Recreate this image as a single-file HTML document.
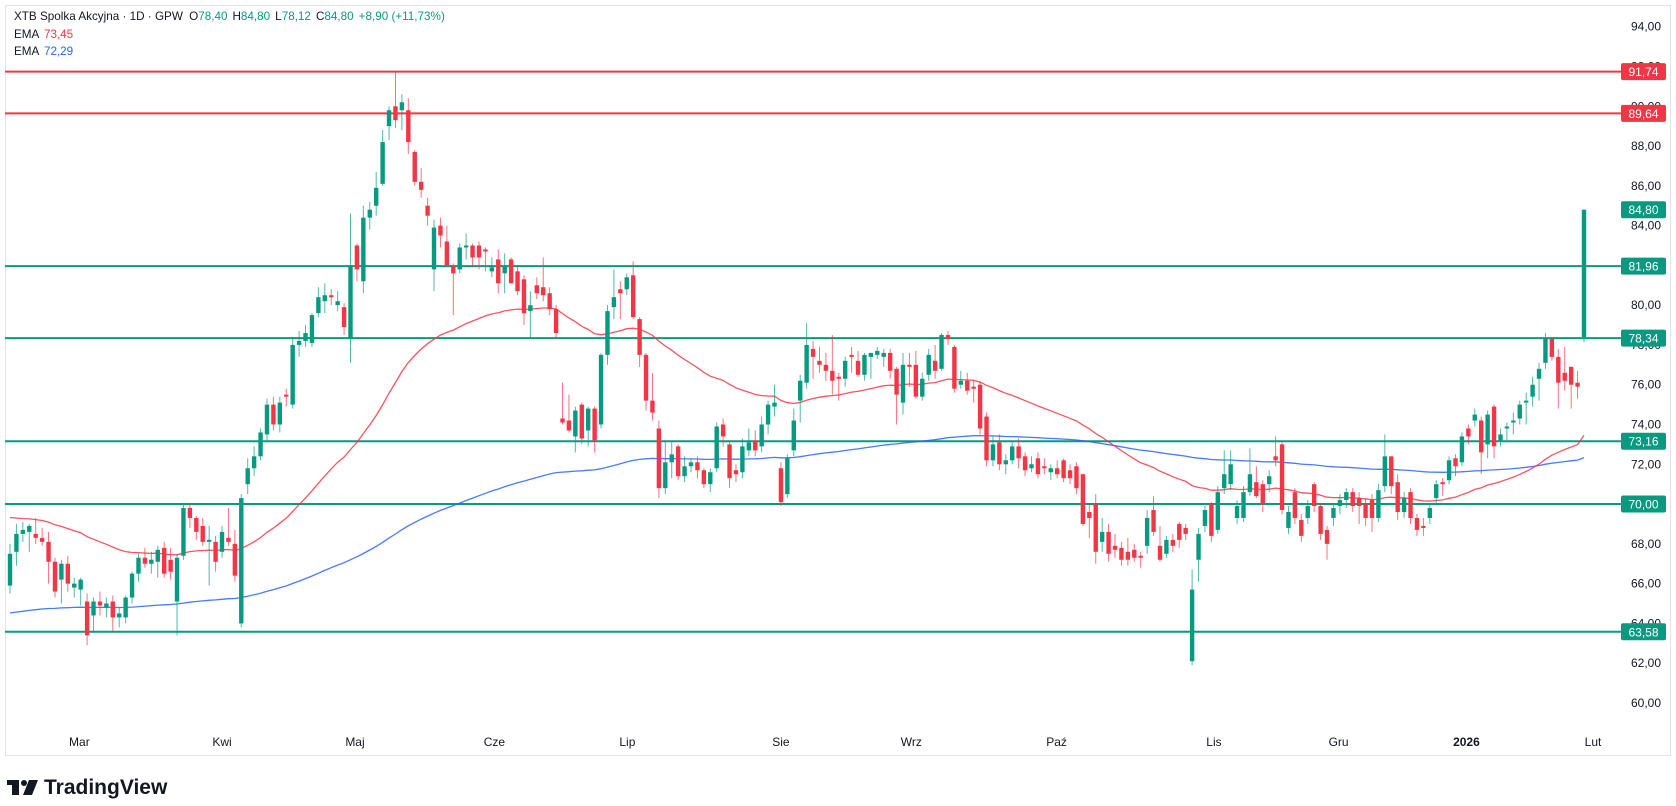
<!DOCTYPE html>
<html><head><meta charset="utf-8">
<style>
html,body{margin:0;padding:0;background:#fff;}
svg{display:block;font-family:"Liberation Sans",sans-serif;}
</style></head>
<body>
<svg id="chart" width="1676" height="806" viewBox="0 0 1676 806" xmlns="http://www.w3.org/2000/svg">
<rect x="5.5" y="5.5" width="1665" height="750" fill="#fff" stroke="#e0e3eb"/>
<g id="hlines"></g>
<g id="emas"></g>
<g id="candles"></g>
<g id="yaxis"></g>
<g id="xaxis"></g>
<g id="labels"></g>
<g font-size="11.7">
<text x="14" y="20" fill="#131722">XTB Spolka Akcyjna · 1D · GPW <tspan dx="3">O</tspan><tspan fill="#089981">78,40</tspan><tspan dx="5">H</tspan><tspan fill="#089981">84,80</tspan><tspan dx="5">L</tspan><tspan fill="#089981">78,12</tspan><tspan dx="5">C</tspan><tspan fill="#089981">84,80</tspan><tspan dx="5" fill="#089981">+8,90 (+11,73%)</tspan></text>
<text x="14" y="38" fill="#131722">EMA <tspan dx="2" fill="#f23645">73,45</tspan></text>
<text x="14" y="55" fill="#131722">EMA <tspan dx="2" fill="#2962ff">72,29</tspan></text>
</g>
<g fill="#131722">
<rect x="7" y="780" width="12" height="5"/>
<rect x="12" y="780" width="7" height="15"/>
<circle cx="24" cy="783" r="3"/>
<polygon points="29,780 38,780 32,795 23,795"/>
<text x="44" y="794" font-size="21" font-weight="bold">TradingView</text>
</g>
</svg>
<script>
const opens=[65.9,67.6,68.5,68.6,68.5,68.3,68.1,67.1,66.2,67.0,
65.8,65.7,65.1,64.4,65.1,64.8,65.1,64.3,64.3,65.3,
66.5,67.3,67.0,67.1,67.8,67.2,65.1,67.4,69.8,69.3,
68.9,68.1,68.1,67.6,68.3,68.0,64.0,71.0,71.8,72.4,
73.5,75.0,74.0,75.5,75.0,78.0,78.2,78.1,79.6,80.2,
80.5,80.0,79.9,78.3,83.0,81.2,84.4,85.0,86.1,89.0,
90.0,89.8,89.8,87.7,86.2,85.0,81.8,84.0,83.2,82.0,
81.8,82.9,83.0,83.0,82.8,81.7,82.3,81.6,82.3,81.7,
81.3,79.7,81.0,80.9,80.6,79.8,74.3,74.2,73.4,75.0,
73.7,74.8,74.0,77.5,79.9,80.8,80.8,81.5,79.3,77.5,
75.2,73.8,70.8,72.1,72.9,71.4,71.9,72.1,71.7,71.0,
71.8,74.0,73.0,71.7,71.6,72.7,73.2,72.9,74.0,74.9,
71.8,70.5,72.7,75.2,76.1,77.8,77.2,77.0,76.7,76.4,
76.3,77.5,77.2,76.5,77.4,77.5,77.4,77.6,76.8,75.1,
77.0,77.0,75.4,76.5,77.2,76.8,78.5,77.9,76.0,76.2,
75.9,76.0,74.4,72.2,73.1,72.0,72.2,72.9,72.4,71.8,
72.3,71.9,71.6,71.8,72.2,71.7,71.9,71.5,69.6,70.0,
68.1,68.6,67.9,67.8,67.6,67.7,67.4,67.9,69.7,67.9,
67.5,68.2,69.0,68.8,62.1,67.2,68.9,70.0,68.7,70.8,
71.0,69.3,69.3,70.6,71.1,71.0,71.0,72.4,73.0,68.8,
70.6,69.2,69.3,71.0,69.9,68.7,69.3,69.9,70.2,70.6,
70.3,70.0,70.2,69.3,70.9,72.4,71.1,69.6,70.6,69.3,
68.9,69.3,70.3,71.1,71.2,72.3,72.1,73.8,74.2,74.2,
73.0,74.9,73.2,73.8,74.1,74.3,75.1,75.4,76.3,77.1,
78.3,77.4,76.6,76.9,76.1,78.4];
const highs=[68.0,69.0,69.1,69.0,69.3,68.8,68.6,67.3,67.2,67.4,
66.3,66.3,65.5,65.3,65.6,65.3,65.4,64.8,65.4,66.6,
67.5,67.8,67.6,67.9,68.1,67.8,67.5,70.0,70.0,69.4,
69.3,68.9,68.4,68.9,69.8,68.7,70.5,72.3,72.9,73.8,
75.3,75.4,75.4,75.8,78.4,78.7,79.0,79.6,80.9,81.1,
80.8,80.7,80.1,84.6,83.1,85.0,85.2,86.7,88.8,90.0,
91.74,90.6,90.4,87.8,86.9,85.4,84.3,84.4,84.0,82.1,
83.1,83.6,83.1,83.2,82.9,82.4,82.8,82.6,82.4,82.0,
81.5,80.7,81.4,82.4,80.9,80.0,76.1,75.5,74.9,75.1,
74.9,74.9,77.6,80.0,81.8,81.2,81.6,82.2,79.4,77.6,
76.6,74.2,73.2,73.2,73.0,72.4,72.3,72.4,71.8,71.8,
74.1,74.3,73.2,72.0,73.3,73.8,73.7,74.4,75.2,76.0,
72.1,72.5,74.8,76.5,79.1,78.2,77.9,77.6,78.5,76.6,
77.4,77.9,77.7,77.6,77.6,77.9,77.8,77.8,76.9,77.6,
77.6,77.7,76.6,77.8,78.0,78.6,78.7,78.0,76.7,76.6,
76.2,76.2,74.6,73.4,73.5,72.5,73.1,73.3,72.6,72.4,
72.6,72.3,72.0,72.2,72.3,72.0,72.1,71.5,70.0,70.5,
69.3,69.0,68.5,68.1,68.3,68.0,67.6,69.7,70.4,68.9,
68.4,68.5,69.1,69.0,66.7,68.8,69.9,70.1,70.9,72.7,
72.7,70.2,70.9,72.8,71.9,71.2,71.7,73.4,73.1,69.9,
70.8,69.5,70.2,71.1,70.0,68.9,70.0,70.5,70.8,70.8,
70.6,70.3,70.5,71.0,73.5,72.4,71.5,70.6,70.8,69.5,
69.3,70.0,71.2,71.3,72.4,72.5,73.6,74.0,74.8,74.4,
74.7,75.0,73.8,74.1,74.6,75.2,75.6,76.4,77.1,78.6,
78.4,77.8,77.9,76.9,76.7,84.8];
const lows=[65.5,66.9,68.1,67.6,68.0,67.9,66.0,65.3,65.0,65.6,
65.3,64.9,62.9,63.6,64.4,64.3,63.6,63.8,64.0,65.0,
66.1,66.8,66.5,66.3,66.3,66.2,63.4,67.2,68.8,68.2,
67.9,65.9,66.6,67.3,67.9,66.1,63.8,70.5,71.4,72.2,
73.2,73.7,73.6,74.9,74.8,77.4,77.9,77.9,79.4,79.6,
80.0,79.7,78.5,77.1,81.2,80.6,83.8,84.5,86.0,88.3,
88.9,88.8,87.6,86.0,85.4,84.0,80.7,82.9,82.2,79.5,
81.6,82.3,81.9,81.8,81.7,81.4,80.6,80.6,81.1,80.5,
79.0,78.3,80.3,80.2,79.5,78.3,74.0,73.6,72.6,73.0,
72.9,72.6,73.8,77.0,79.3,79.3,80.5,79.3,76.9,74.7,
74.2,70.3,70.5,71.3,71.2,71.1,71.6,71.3,70.8,70.6,
71.6,72.9,70.8,71.1,71.3,72.4,72.4,72.6,73.5,74.4,
69.9,70.3,72.4,74.1,75.8,76.3,76.6,76.2,75.5,75.2,
75.9,76.6,76.4,76.2,76.3,77.3,76.9,76.3,74.0,74.5,
75.9,75.3,75.2,76.2,76.3,76.7,78.0,75.6,75.8,75.5,
75.1,73.5,71.9,71.9,71.7,71.5,72.0,71.8,71.4,71.6,
71.3,71.5,71.2,71.3,71.1,71.0,70.5,68.9,68.3,67.0,
67.6,67.1,67.3,66.9,66.9,67.1,66.8,67.5,68.4,67.1,
67.3,67.6,67.8,68.2,61.9,66.1,68.6,68.1,68.5,70.5,
70.7,69.0,69.1,70.4,70.3,69.6,70.6,71.9,69.5,68.5,
69.0,68.1,69.0,69.6,68.2,67.2,68.9,69.5,69.8,69.6,
69.0,68.9,68.6,69.1,70.6,70.5,69.2,69.3,69.0,68.4,
68.4,69.0,70.0,70.4,71.0,71.4,71.9,73.0,73.9,71.5,
72.3,72.3,72.9,73.2,73.5,74.0,74.0,74.9,75.2,76.8,
77.2,74.8,75.7,74.8,75.3,78.12];
const closes=[67.5,68.5,68.7,68.9,68.3,68.1,67.1,65.6,67.0,66.0,
66.0,66.2,63.4,65.1,64.9,65.0,64.3,64.5,65.3,66.5,
67.3,67.0,67.2,67.7,66.5,66.6,67.3,69.8,69.3,68.6,
68.1,68.2,67.1,68.6,68.1,66.4,70.3,71.8,72.4,73.6,
75.0,74.0,75.1,75.4,78.0,78.2,78.6,79.5,80.4,80.5,
80.4,80.2,78.9,82.0,81.8,84.4,84.8,85.9,88.2,89.8,
89.3,90.2,88.2,86.2,85.8,84.5,83.9,83.5,82.0,81.6,
82.9,83.0,82.4,82.4,82.7,81.9,81.1,82.0,81.1,80.7,
79.6,80.0,80.6,80.5,79.8,78.6,74.1,73.7,74.7,73.3,
74.8,73.2,77.5,79.7,80.4,80.6,81.4,79.4,77.5,75.2,
74.6,70.8,72.1,72.5,71.4,71.9,72.1,71.7,71.0,71.6,
73.9,73.4,71.3,71.5,72.9,73.1,72.7,74.0,75.0,75.1,
70.1,72.3,74.2,76.2,78.0,77.4,77.0,76.7,76.2,76.3,
77.2,77.4,76.5,77.5,77.6,77.7,77.6,76.7,75.5,77.0,
76.9,75.4,76.3,77.5,76.7,78.5,78.3,75.8,76.2,75.7,
75.8,73.8,72.2,73.0,72.0,72.2,72.9,72.3,71.7,72.0,
71.5,71.8,71.8,71.5,71.3,71.3,70.8,69.0,69.3,67.6,
68.6,67.5,67.7,67.2,67.2,67.3,67.3,69.3,68.6,67.2,
68.2,67.9,68.2,68.5,65.7,68.5,69.7,68.4,70.6,71.5,
72.0,69.9,70.6,71.5,70.4,70.0,71.4,72.2,69.7,69.6,
69.3,68.4,69.9,69.9,68.5,68.0,69.8,70.2,70.6,69.9,
69.9,69.3,69.3,70.7,72.4,70.9,69.6,70.3,69.3,68.7,
68.8,69.8,71.0,71.0,72.2,71.9,73.4,73.4,74.5,72.6,
74.5,72.9,73.5,73.9,74.2,75.0,75.2,76.0,76.8,78.3,
77.4,76.1,76.2,76.0,75.9,84.8];
const emaFastSeed=69.4, emaFastPeriod=50;
const emaSlowSeed=64.5, emaSlowPeriod=200;
const yTicks=[94,92,90,88,86,84,82,80,78,76,74,72,70,68,66,64,62,60];
const levelValues=[91.74,89.64,81.96,78.34,73.16,70.00,63.58];
const levelColors=["#f23645","#f23645","#089981","#089981","#089981","#089981","#089981"];
const monthLabels=["Mar","Kwi","Maj","Cze","Lip","Sie","Wrz","Paź","Lis","Gru","2026","Lut"];
const monthIndex=[10.8,33,53.7,75.4,96.1,120,140.3,162.9,187.4,206.8,226.7,246.4];

const NS="http://www.w3.org/2000/svg";
const X0=10, X1=1584;
const N=closes.length;
const step=(X1-X0)/(N-1);
function xs(i){return X0+i*step;}
function ys(p){return 26.7+(94-p)*19.89;}
function mk(tag,attrs,parent){const e=document.createElementNS(NS,tag);for(const k in attrs)e.setAttribute(k,attrs[k]);parent.appendChild(e);return e;}
function fmt(v){return v.toFixed(2).replace('.',',');}

const yax=document.getElementById('yaxis');
yTicks.forEach(v=>{
  const t=mk('text',{x:1661,y:ys(v)+4,'text-anchor':'end','font-size':12,fill:'#131722'},yax);
  
  
  t.textContent=fmt(v);
});

const hl=document.getElementById('hlines');
const lab=document.getElementById('labels');
levelValues.forEach((v,k)=>{
  const l=mk('line',{x1:5,x2:1621,y1:ys(v),y2:ys(v),stroke:levelColors[k],'stroke-width':2},hl);
  
  
});
function priceLabel(v,color,name){
  const g=mk('g',{},lab);
  
  
  mk('rect',{x:1621,y:ys(v)-8.5,width:45,height:17,rx:2,fill:color},g);
  const t=mk('text',{x:1643.5,y:ys(v)+4.5,'text-anchor':'middle','font-size':12,fill:'#fff'},g);
  t.textContent=fmt(v);
}
levelValues.forEach((v,k)=>priceLabel(v,levelColors[k],'level-price-label'));
priceLabel(closes[N-1],'#089981','last-price-label');

function ema(seed,period){const a=2/(period+1);let e=seed;const out=[];closes.forEach(c=>{e=a*c+(1-a)*e;out.push(e);});return out;}
const emg=document.getElementById('emas');
function drawLine(vals,color,name){
  const d=vals.map((v,i)=>(i?'L':'M')+xs(i).toFixed(1)+' '+ys(v).toFixed(1)).join(' ');
  const p=mk('path',{d:d,fill:'none',stroke:color,'stroke-width':1.3,'stroke-opacity':0.85},emg);
  
  
}
drawLine(ema(emaSlowSeed,emaSlowPeriod),'#2962ff','ema-slow-line');
drawLine(ema(emaFastSeed,emaFastPeriod),'#f23645','ema-fast-line');

const cg=document.getElementById('candles');
const bw=4.4;
for(let i=0;i<N;i++){
  const up=closes[i]>=opens[i];
  const col=up?'#089981':'#f23645';
  const g=mk('g',{},cg);
  
  
  const x=xs(i);
  mk('line',{x1:x,x2:x,y1:ys(highs[i]),y2:ys(lows[i]),stroke:col,'stroke-width':1,'stroke-opacity':0.7},g);
  const top=ys(Math.max(opens[i],closes[i])), bot=ys(Math.min(opens[i],closes[i]));
  mk('rect',{x:x-bw/2,y:top,width:bw,height:Math.max(1,bot-top),fill:col},g);
}

const xax=document.getElementById('xaxis');
monthLabels.forEach((m,k)=>{
  const t=mk('text',{x:xs(monthIndex[k]),y:746,'text-anchor':'middle','font-size':12,fill:'#131722','font-weight':m==='2026'?'bold':'normal'},xax);
  
  
  t.textContent=m;
});
</script>
</body></html>
